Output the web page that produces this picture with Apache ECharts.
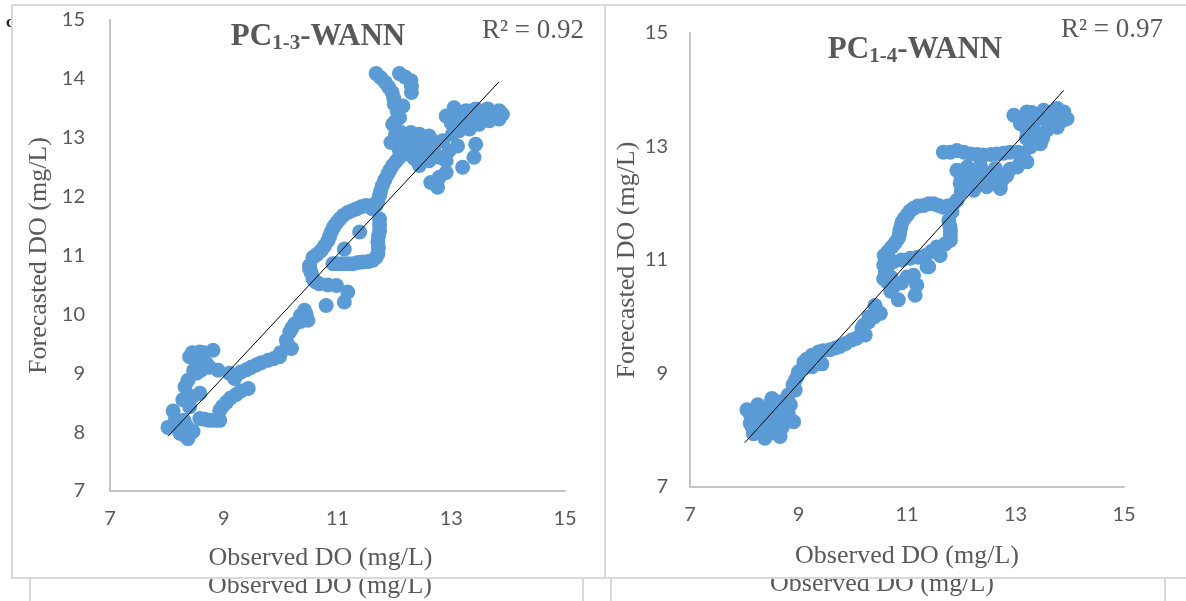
<!DOCTYPE html>
<html>
<head>
<meta charset="utf-8">
<script src="https://cdn.jsdelivr.net/npm/echarts@6/dist/echarts.min.js"></script>
<style>html,body{margin:0;padding:0;background:#fff}#c{width:1186px;height:601px}</style>
</head>
<body>
<div id="c"></div>
<script>
// Panel 1: PC1-3-WANN
const obs13 = [11.68,11.84,11.96,12.00,12.15,12.09,11.97,12.09,12.29,12.30,12.05,11.76,11.90,11.99,12.07,12.02,12.19,12.30,
  11.94,12.12,12.29,12.44,12.61,12.67,12.44,12.26,12.09,12.44,12.67,12.79,12.61,12.02,12.20,12.35,12.55,12.50,12.35,12.55,12.70,12.18,
  12.91,13.05,13.26,13.43,13.64,13.84,13.84,13.67,13.49,13.32,13.14,13.02,13.11,12.96,13.43,13.40,13.20,12.91,12.79,12.64,12.76,12.91,13.55,13.75,12.85,
  13.00,13.20,13.35,13.50,13.70,13.90,13.15,13.60,
  12.26,12.09,11.97,11.88,11.79,11.74,11.68,11.50,11.33,11.18,11.04,10.95,10.89,10.83,10.71,10.57,10.51,
  11.71,11.76,11.83,11.92,12.03,10.99,10.92,10.86,10.77,10.64,11.60,11.42,11.25,11.10,
  11.74,11.74,11.71,11.71,11.62,11.44,11.27,11.09,10.92,11.60,11.39,11.12,
  11.00,11.18,11.36,11.54,11.68,11.72,11.72,11.74,
  10.51,10.57,10.68,10.98,11.18,11.12,10.80,10.54,10.62,10.83,
  10.42,10.48,10.25,10.16,10.10,10.19,9.98,9.78,9.57,9.40,9.22,9.19,
  9.30,9.48,9.66,9.88,10.12,10.20,10.35,10.45,
  9.43,9.22,9.05,8.93,8.93,8.75,8.58,8.58,8.40,8.11,8.02,8.23,8.37,8.46,
  9.12,9.30,8.98,8.84,8.66,8.30,8.15,8.28,
  8.32,8.40,8.58,8.81,8.70,8.90,8.52,8.37,8.45,8.55,8.62,8.47,
  8.65,8.48,8.75,8.60,8.45,8.30,8.20,8.35,10.35,9.10,10.00];
const fc13 = [14.09,13.94,13.77,13.57,13.54,13.34,13.23,14.09,13.97,13.77,13.45,14.02,13.86,13.67,13.50,13.28,14.03,13.87,
  12.92,13.09,13.09,13.06,13.03,12.95,12.78,12.72,12.78,12.53,12.78,12.67,12.61,13.05,12.95,12.90,12.88,12.95,12.65,12.70,12.85,12.85,
  13.37,13.51,13.46,13.49,13.49,13.46,13.32,13.29,13.23,13.15,13.12,13.06,12.86,12.78,12.89,12.67,12.50,12.41,12.33,12.24,12.16,12.61,13.40,13.40,12.95,
  13.25,13.30,13.30,13.35,13.42,13.40,13.40,13.35,
  12.84,12.67,12.53,12.38,12.19,12.02,11.85,11.85,11.79,11.73,11.62,11.51,11.40,11.25,11.08,10.97,10.83,
  11.93,12.10,12.28,12.45,12.60,11.56,11.46,11.32,11.16,11.02,11.85,11.83,11.76,11.68,
  11.62,11.42,11.23,11.03,10.92,10.89,10.86,10.86,10.86,11.80,11.40,11.11,
  10.86,10.86,10.88,10.90,10.97,11.13,11.33,11.52,
  10.77,10.60,10.52,10.49,10.38,10.21,10.15,10.70,10.55,10.50,
  10.07,9.90,9.84,9.70,9.56,9.42,9.28,9.22,9.14,9.06,8.97,8.91,
  9.02,9.10,9.18,9.25,9.49,9.77,9.88,10.00,
  8.74,8.64,8.51,8.37,8.20,8.20,8.23,8.66,8.43,8.36,8.08,7.98,7.89,8.01,
  8.58,8.70,8.44,8.20,8.22,7.95,8.22,8.55,
  8.77,9.28,9.36,9.39,9.16,9.05,9.00,8.88,9.35,9.20,9.12,9.05,
  9.35,9.30,9.10,9.05,8.60,8.20,8.10,8.10,9.98,9.00,9.35];
const trend13X = [8.02, 13.84];
const trend13Y = [7.93, 13.95];

// Panel 2: PC1-4-WANN
const obs14 = [12.97,13.21,13.52,13.77,13.89,13.95,13.77,13.58,13.40,13.21,13.09,13.46,13.27,13.65,13.85,13.35,
  13.10,13.30,13.45,13.60,13.70,13.85,13.50,13.35,13.20,
  11.67,11.92,12.17,12.41,12.66,12.90,13.15,13.21,13.03,12.84,12.72,12.47,12.29,12.11,11.98,11.92,12.11,12.35,12.63,12.23,12.05,12.50,
  11.80,12.05,12.30,12.55,12.78,13.05,12.00,12.20,12.40,12.60,12.75,12.90,13.10,12.00,
  11.92,11.83,11.67,11.49,11.31,11.12,11.00,10.91,10.87,10.84,10.72,10.58,10.57,10.75,11.06,11.34,11.55,11.80,11.80,11.77,11.61,11.40,
  10.60,10.60,10.65,10.78,10.86,10.89,10.95,11.05,11.20,11.40,11.58,11.75,11.85,11.79,11.80,11.70,11.45,11.20,10.90,
  10.63,10.57,10.75,11.12,11.18,11.15,10.84,11.37,10.90,11.00,10.65,10.70,
  10.41,10.51,10.29,10.17,10.23,9.98,9.77,9.58,9.37,9.25,9.43,9.25,9.00,8.94,8.94,8.81,8.66,8.51,
  8.90,8.98,9.10,9.15,9.45,9.68,9.87,10.07,10.20,10.30,10.45,
  8.05,8.11,8.17,8.38,8.66,8.91,8.81,8.44,8.29,8.61,
  8.30,8.50,8.70,8.20,8.45,8.75,10.70,9.10,10.40,
  8.10,8.20,8.30,8.40,8.50,8.55,8.65,8.40,8.60,8.25,8.15,8.35,8.55,8.75,8.50,8.85];
const fc14 = [13.55,13.61,13.64,13.67,13.61,13.49,13.34,13.29,13.23,13.29,13.40,13.05,12.99,13.50,13.55,13.45,
  13.50,13.60,13.50,13.60,13.45,13.45,13.15,13.10,13.15,
  12.90,12.93,12.87,12.85,12.87,12.90,12.87,12.73,12.64,12.49,12.26,12.29,12.40,12.40,12.35,12.58,12.64,12.67,12.61,12.23,12.50,12.50,
  12.90,12.90,12.86,12.86,12.88,12.90,12.45,12.55,12.55,12.45,12.40,12.60,12.75,12.20,
  12.05,11.85,11.93,11.99,11.96,11.91,11.79,11.67,11.52,11.38,11.23,11.08,10.91,10.97,11.03,11.08,11.23,11.35,11.52,11.70,11.08,10.88,
  10.80,11.00,11.15,11.30,11.45,11.60,11.73,11.86,11.95,11.99,11.96,11.95,11.98,11.60,11.44,11.28,11.15,11.05,11.00,
  10.88,10.67,10.53,10.73,10.56,10.38,10.30,10.88,10.60,10.70,10.60,10.45,
  10.20,10.06,9.91,9.79,9.68,9.59,9.48,9.42,9.38,9.32,9.17,9.12,9.03,8.88,8.71,8.62,8.50,8.56,
  8.80,8.95,9.10,9.25,9.40,9.45,9.53,9.62,9.85,10.00,10.10,
  8.36,8.12,7.94,7.86,7.89,8.15,8.30,8.18,8.33,8.24,
  8.00,8.00,8.05,8.25,8.40,8.15,10.70,9.20,10.00,
  8.30,8.15,8.20,8.30,8.35,8.20,8.35,8.05,8.10,8.45,8.05,7.95,7.95,8.25,8.50,8.45];
const trend14X = [8.01, 13.89];
const trend14Y = [7.78, 13.99];

const ticks13 = [7, 15, 1];   // min, max, interval (y)
const ticksX = [7, 15, 2];
const ticks14 = [7, 15, 2];
const titles = ['PC', '1-3', '-WANN', 'PC', '1-4', '-WANN'];
const r2Labels = ['R² = 0.92', 'R² = 0.97'];
const xTitle = 'Observed DO (mg/L)';
const yTitle = 'Forecasted DO (mg/L)';

const pair = (a, b) => a.map((v, i) => [v, b[i]]);
const grey = '#595959';
const serif = '"Liberation Serif","Times New Roman",serif';
const sans = 'Lato, "Open Sans", sans-serif';

function xAx(idx, nameGap, pad) {
  return {
    gridIndex: idx, type: 'value', min: ticksX[0], max: ticksX[1], interval: ticksX[2], z: 5,
    axisLine: {show: true, onZero: false, lineStyle: {color: '#c4c4c4', width: 2}},
    axisTick: {show: false}, splitLine: {show: false},
    axisLabel: {color: grey, fontFamily: sans, fontSize: 20, margin: 18},
    name: xTitle, nameLocation: 'middle', nameGap: nameGap,
    nameTextStyle: {color: grey, fontFamily: serif, fontSize: 26, padding: pad}
  };
}
function yAx(idx, t, nameGap, margin) {
  return {
    gridIndex: idx, type: 'value', min: t[0], max: t[1], interval: t[2], z: 5,
    axisLine: {show: true, onZero: false, lineStyle: {color: '#c4c4c4', width: 2}},
    axisTick: {show: false}, splitLine: {show: false},
    axisLabel: {color: grey, fontFamily: sans, fontSize: 20, margin: margin},
    name: yTitle, nameLocation: 'middle', nameGap: nameGap,
    nameTextStyle: {color: grey, fontFamily: serif, fontSize: 26}
  };
}
const rich = {
  a: {fontFamily: serif, fontWeight: 'bold', fontSize: 31, color: grey},
  s: {fontFamily: serif, fontWeight: 'bold', fontSize: 21, color: grey, padding: [14, 0, 0, 0]}
};

const chart = echarts.init(document.getElementById('c'));
chart.setOption({
  animation: false,
  backgroundColor: '#fff',
  title: [
    {text: `{a|${titles[0]}}{s|${titles[1]}}{a|${titles[2]}}`, left: 313, top: 14, textAlign: 'center', z: 10, textStyle: {rich}},
    {text: `{a|${titles[3]}}{s|${titles[4]}}{a|${titles[5]}}`, left: 910, top: 27, textAlign: 'center', z: 10, textStyle: {rich}},
    {text: r2Labels[0], left: 477, top: 12, z: 10, textStyle: {fontFamily: serif, fontWeight: 'normal', fontSize: 27, color: grey}},
    {text: r2Labels[1], left: 1056, top: 11, z: 10, textStyle: {fontFamily: serif, fontWeight: 'normal', fontSize: 27, color: grey}}
  ],
  graphic: [
    {type: 'text', z: 0, style: {text: xTitle, x: 320, y: 586, align: 'center', verticalAlign: 'middle', font: '26px ' + serif, fill: grey}},
    {type: 'text', z: 0, style: {text: xTitle, x: 882, y: 584, align: 'center', verticalAlign: 'middle', font: '26px ' + serif, fill: grey}},
    {type: 'rect', z: 0, shape: {x: 30, y: 560, width: 553, height: 60}, style: {fill: 'none', stroke: '#d9d9d9', lineWidth: 2}},
    {type: 'rect', z: 0, shape: {x: 611, y: 560, width: 554, height: 60}, style: {fill: 'none', stroke: '#d9d9d9', lineWidth: 2}},
    {type: 'text', z: 0, style: {text: 'c', x: 6, y: 23, verticalAlign: 'middle', font: 'bold 17px ' + serif, fill: '#222'}},
    {type: 'rect', z: 1, shape: {x: 12, y: 5, width: 593, height: 573}, style: {fill: '#fff', stroke: '#d9d9d9', lineWidth: 2}},
    {type: 'rect', z: 1, shape: {x: 605, y: 5, width: 600, height: 573}, style: {fill: '#fff', stroke: '#d9d9d9', lineWidth: 2}}
  ],
  grid: [
    {left: 110, right: 621, top: 20, bottom: 110},
    {left: 690, right: 62, top: 33, bottom: 114}
  ],
  xAxis: [xAx(0, 54, [0, 34, 0, 0]), xAx(1, 56, 0)],
  yAxis: [yAx(0, ticks13, 58, 25), yAx(1, ticks14, 50, 22)],
  series: [
    {type: 'scatter', xAxisIndex: 0, yAxisIndex: 0, z: 10, symbolSize: 15, itemStyle: {color: '#5b9bd5', opacity: 1}, data: pair(obs13, fc13)},
    {type: 'line', xAxisIndex: 0, yAxisIndex: 0, z: 11, symbol: 'none', lineStyle: {color: '#000', width: 1}, data: pair(trend13X, trend13Y)},
    {type: 'scatter', xAxisIndex: 1, yAxisIndex: 1, z: 10, symbolSize: 15, itemStyle: {color: '#5b9bd5', opacity: 1}, data: pair(obs14, fc14)},
    {type: 'line', xAxisIndex: 1, yAxisIndex: 1, z: 11, symbol: 'none', lineStyle: {color: '#000', width: 1}, data: pair(trend14X, trend14Y)}
  ]
});
</script>
</body>
</html>
